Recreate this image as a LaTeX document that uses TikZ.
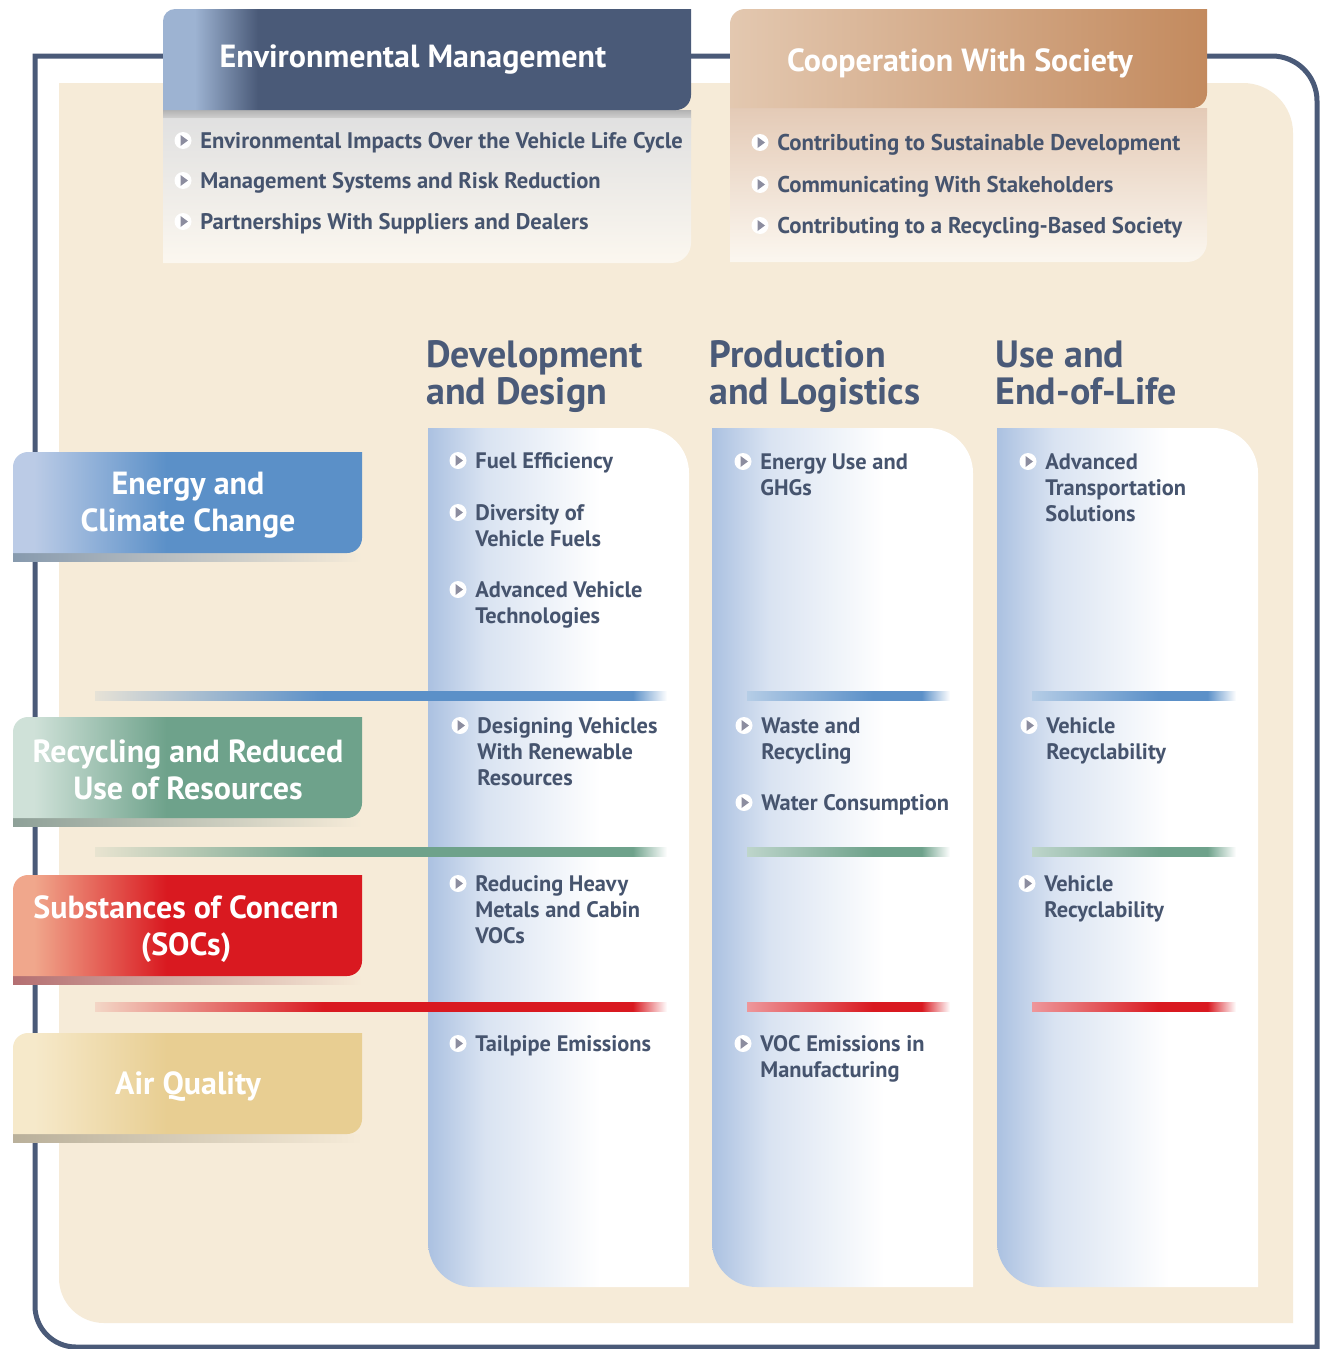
\documentclass[tikz,border=0pt]{standalone}
\usepackage{fontspec}
\setmainfont{PT Sans}
\usetikzlibrary{calc}

\definecolor{slate}{HTML}{4A5A78}
\definecolor{txt}{HTML}{46546E}
\definecolor{cream}{HTML}{F6EBD8}
\definecolor{colblue}{HTML}{ABC1E1}
\definecolor{emlight}{HTML}{9DB3D2}
\definecolor{copper}{HTML}{C38A5E}
\definecolor{copperlight}{HTML}{E3C8B0}
\definecolor{energy}{HTML}{5B90C8}
\definecolor{energylight}{HTML}{BBCBE6}
\definecolor{recyc}{HTML}{6EA28B}
\definecolor{recyclight}{HTML}{CFE1D8}
\definecolor{socs}{HTML}{D91920}
\definecolor{socslight}{HTML}{F0A78C}
\definecolor{air}{HTML}{E8CE92}
\definecolor{airlight}{HTML}{F6E9CA}
\definecolor{bulgray}{HTML}{8C8D9F}

% shadings (the path box is 25bp..75bp)
\pgfdeclarehorizontalshading{colfade}{100bp}{color(0bp)=(colblue); color(25bp)=(colblue); color(36bp)=(colblue!45!white); color(58bp)=(white); color(100bp)=(white)}
\pgfdeclarehorizontalshading{emshade}{100bp}{color(0bp)=(emlight); color(28bp)=(emlight); color(34bp)=(slate); color(100bp)=(slate)}
\newcommand\mkbar[2]{%
  \pgfdeclarehorizontalshading{#1long}{100bp}{color(0bp)=(#2!10!cream); color(25bp)=(#2!10!cream); color(45bp)=(#2); color(72bp)=(#2); color(75bp)=(white); color(100bp)=(white)}%
  \pgfdeclarehorizontalshading{#1short}{100bp}{color(0bp)=(#2!45!white); color(25bp)=(#2!45!white); color(56bp)=(#2); color(68bp)=(#2); color(75bp)=(white); color(100bp)=(white)}}
\newcommand\mkbox[3]{%
  \pgfdeclarehorizontalshading{#1box}{100bp}{color(0bp)=(#2); color(28bp)=(#2); color(47bp)=(#3); color(100bp)=(#3)}}
\mkbar{energy}{energy}
\mkbar{recyc}{recyc}
\mkbar{socs}{socs}
\mkbox{energy}{energylight}{energy}
\mkbox{recyc}{recyclight}{recyc}
\mkbox{socs}{socslight}{socs}
\mkbox{air}{airlight}{air}

\tikzset{
  outerframe/.style={draw=slate, line width=2.5pt},
  item/.style={font=\bfseries\fontsize{11.2}{13}\selectfont, text=txt, inner sep=0pt, align=left, anchor=north west},
  topitem/.style={font=\bfseries\fontsize{11.4}{13}\selectfont, text=txt, inner sep=0pt, anchor=north west},
  emitem/.style={topitem, font=\bfseries\fontsize{11.28}{13}\selectfont},
  colhead/.style={font=\bfseries\fontsize{19}{18.5}\selectfont, text=slate, inner sep=0pt, align=left, anchor=north west},
  headlabel/.style={font=\bfseries\fontsize{16}{18}\selectfont, text=white, inner sep=0pt, anchor=base},
  boxlabel/.style={font=\bfseries\fontsize{16}{18.5}\selectfont, text=white, inner sep=0pt, align=center},
  itembullet/.pic={
    \fill[white] (0,0) circle (8.5);
    \fill[bulgray] (-2.5,-5.5) -- (5,0) -- (-2.5,5.5) -- cycle;
  }
}

% bullet + text, top of the text at (#3,#4)
\newcommand\itm[5][item]{%
  \pic at ($(#3,#4)+(-17,8.5)$) {itembullet};
  \node[#1] (#2) at (#3,#4) {#5};}

\begin{document}
\begin{tikzpicture}[x=0.5pt, y=-0.5pt]
  \useasboundingbox[fill=white] (0,0) rectangle (1322,1349);

  % frame and panel
  \draw[outerframe] (35,56) -- (1272,56) arc[start angle=-90, end angle=0, radius=45]
    -- (1317,1347) -- (76,1347) arc[start angle=90, end angle=180, radius=41] -- cycle;
  \fill[cream] (59,83) -- (1243,83) arc[start angle=-90, end angle=0, radius=50]
    -- (1293,1323) -- (104,1323) arc[start angle=90, end angle=180, radius=45] -- cycle;

  % columns
  \foreach \x in {428,712,997}
    \shade[shading=colfade] (\x,428) -- (\x+216,428) arc[start angle=-90, end angle=0, radius=45]
      -- (\x+261,1287) -- (\x+45,1287) arc[start angle=90, end angle=180, radius=45] -- cycle;

  % separator bars
  \foreach \y/\c in {696/energy, 852/recyc, 1007/socs}
    {
      \shade[shading=\c long] (95,\y-4.5) rectangle (667,\y+4.5);
      \shade[shading=\c short] (747,\y-4.5) rectangle (950,\y+4.5);
      \shade[shading=\c short] (1032,\y-4.5) rectangle (1236,\y+4.5);
    }

  % top headers
  \shade[top color=black!30, bottom color=cream!40!black!12] (163,110) rectangle (691,126);
  \shade[top color=black!12!white, bottom color=cream!40!white] (163,118) -- (691,118) -- (691,243)
    arc[start angle=0, end angle=90, radius=20] -- (163,263) -- cycle;
  \shade[shading=emshade] (163,110) -- (163,21) arc[start angle=180, end angle=270, radius=12]
    -- (691,9) -- (691,95) arc[start angle=0, end angle=90, radius=15] -- cycle;
  \node[headlabel] (em) at (413,67) {Environmental Management};

  \shade[top color=copper!45!white, bottom color=cream!40!white] (730,108) -- (1207,108) -- (1207,242)
    arc[start angle=0, end angle=90, radius=20] -- (730,262) -- cycle;
  \shade[left color=copperlight, right color=copper] (730,108) -- (730,24) arc[start angle=180, end angle=270, radius=15]
    -- (1207,9) -- (1207,93) arc[start angle=0, end angle=90, radius=15] -- cycle;
  \node[headlabel] (cws) at (960,71) {Cooperation With Society};

  \itm[emitem]{eil}{200}{132}{Environmental Impacts Over the Vehicle Life Cycle}
  \itm[emitem]{msr}{200}{172}{Management Systems and Risk Reduction}
  \itm[emitem]{psd}{200}{213}{Partnerships With Suppliers and Dealers}
  \itm[topitem]{csd}{777}{134}{Contributing to Sustainable Development}
  \itm[topitem]{cws1}{777}{176}{Communicating With Stakeholders}
  \itm[topitem]{crs}{777}{217}{Contributing to a Recycling-Based Society}

  % column headings
  \node[colhead] (dd) at (426,340) {Development\\and Design};
  \node[colhead] (pl) at (709,340) {Production\\and Logistics};
  \node[colhead] (ue) at (995,340) {Use and\\End-of-Life};

  % left boxes
  \foreach \t/\c in {452/energy, 717/recyc, 875/socs, 1033/air}
    {
      \shade[left color=\c!60!black!60, right color=cream] (13,\t+101) rectangle (362,\t+109);
      \shade[shading=\c box] (13,\t+101) -- (13,\t+15) arc[start angle=180, end angle=270, radius=15]
        -- (362,\t) -- (362,\t+86) arc[start angle=0, end angle=90, radius=15] -- cycle;
    }
  \node[boxlabel] (ecc) at (188,505) {Energy and\\Climate Change};
  \node[boxlabel] (rru) at (188,770) {Recycling and Reduced\\Use of Resources};
  \node[boxlabel] (soc) at (186,929) {Substances of Concern\\(SOCs)};
  \node[boxlabel] (aq) at (188,1087) {Air Quality};

  % column items
  \itm{fe}{475}{452}{Fuel Efficiency}
  \itm{dvf}{475}{504}{Diversity of\\Vehicle Fuels}
  \itm{avt}{475}{581}{Advanced Vehicle\\Technologies}
  \itm{dvr}{477}{717}{Designing Vehicles\\With Renewable\\Resources}
  \itm{rhm}{475}{875}{Reducing Heavy\\Metals and Cabin\\VOCs}
  \itm{tpe}{475}{1035}{Tailpipe Emissions}

  \itm{eug}{760}{453}{Energy Use and\\GHGs}
  \itm{wr}{761}{717}{Waste and\\Recycling}
  \itm{wc}{761}{794}{Water Consumption}
  \itm{vem}{760}{1035}{VOC Emissions in\\Manufacturing}

  \itm{ats}{1045}{453}{Advanced\\Transportation\\Solutions}
  \itm{vr1}{1046}{717}{Vehicle\\Recyclability}
  \itm{vr2}{1044}{875}{Vehicle\\Recyclability}
\end{tikzpicture}
\end{document}
